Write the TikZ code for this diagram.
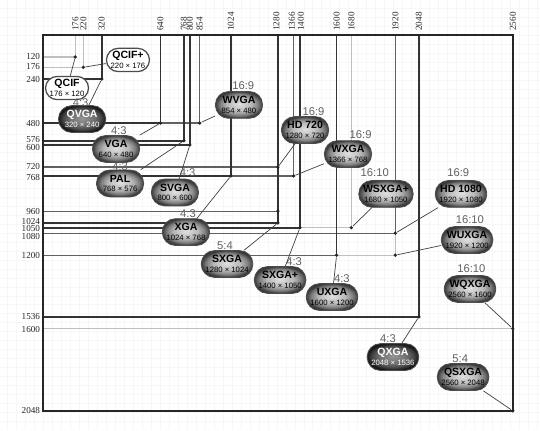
\documentclass[tikz,border=0pt]{standalone}
\usepackage{fontspec}
\setmainfont{Liberation Serif}
\setsansfont{Liberation Sans}
\usetikzlibrary{positioning}
\pgfdeclareradialshading{badgeshade}{\pgfpoint{0bp}{1.5bp}}{%
    color(0bp)=(black!12); color(13bp)=(black!28);
    color(20bp)=(black!50); color(25bp)=(black!76); color(36bp)=(black!85)}
\pgfdeclareradialshading{darkshade}{\pgfpoint{0bp}{1.5bp}}{%
    color(0bp)=(black!42); color(13bp)=(black!56);
    color(20bp)=(black!72); color(25bp)=(black!90); color(36bp)=(black!92)}
\tikzset{
    res chart/.style = {x=0.0045875cm, y=-0.0045875cm},
    frame/.style     = {line width=1.5pt, draw=black!85},
    dark/.style      = {line width=1.2pt, draw=black!80},
    mid/.style       = {line width=0.9pt, draw=black!62},
    light/.style     = {line width=0.8pt, draw=black!25},
    gridline/.style  = {draw=black!3, line width=0.3pt},
    dot/.style       = {circle, fill=black!85, inner sep=0pt,
                        minimum size=2.6pt},
    link/.style      = {draw=black!75, line width=0.5pt},
    badge/.style     = {draw=black!70, semithick, rounded corners=3.3mm,
                        minimum width=1.18cm, minimum height=0.67cm,
                        inner xsep=3pt, inner ysep=0pt, align=center,
                        font=\sffamily\fontsize{5.5}{6.8}\selectfont},
    res/.style       = {badge, shading=badgeshade, text=black},
    dres/.style      = {badge, shading=darkshade, text=white!92},
    wres/.style      = {badge, fill=white, line width=0.9pt,
                        minimum width=0.95cm, minimum height=0.58cm,
                        rounded corners=2.9mm},
    ratio/.style     = {font=\sffamily\fontsize{8}{8}\selectfont,
                        text=black!62, inner sep=0pt},
    xnum/.style      = {font=\fontsize{6.5}{6.5}\selectfont, rotate=90,
                        anchor=west, inner sep=0pt, text=black!85},
    ynum/.style      = {font=\fontsize{6.5}{6.5}\selectfont, anchor=east,
                        inner sep=0pt, text=black!85}
}
\newcommand{\rname}[1]{{\fontsize{7.5}{8}\selectfont\bfseries #1}}

\begin{document}
\begin{tikzpicture}[res chart]
\useasboundingbox (-234.3,-190.7) rectangle (2708.4,2152.6);
\draw[gridline, step=0.225cm] (-234,-190) grid (2708,2152);

% ================= Outlines: origin to width x height =================
\draw[light] (0,120)  -| (176,0);
\draw[light] (0,176)  -| (220,0);
\draw[light] (0,1050) -| (1680,0);
\draw[light] (0,1200) -| (1920,0);
\draw[light] (0,1600) -| (2560,0);
\draw[mid]   (0,480)  -| (854,0);
\draw[mid]   (0,720)  -| (1280,0);
\draw[mid]   (0,768)  -| (1366,0);
\draw[mid]   (0,960)  -| (1280,0);
\draw[mid]   (0,1080) -| (1920,0);
\draw[mid]   (0,1200) -- (1600,1200);
\draw[dark]  (0,240)  -| (320,0);
\draw[dark]  (0,480)  -| (640,0);
\draw[dark]  (0,576)  -| (768,0);
\draw[dark]  (0,600)  -| (800,0);
\draw[dark]  (0,768)  -| (1024,0);
\draw[dark]  (0,1024) -| (1280,0);
\draw[dark]  (0,1050) -| (1400,0);
\draw[dark]  (1600,1200) -- (1600,0);
\draw[dark]  (0,1536) -| (2048,0);
\draw[frame] (0,0) rectangle (2560,2048);

% ================= Axis numbers =================
\node[xnum] (x176)  at (176,-22)  {176};
\node[xnum] (x220)  at (220,-22)  {220};
\node[xnum] (x320)  at (320,-22)  {320};
\node[xnum] (x640)  at (640,-22)  {640};
\node[xnum] (x768)  at (768,-22)  {768};
\node[xnum] (x800)  at (800,-22)  {800};
\node[xnum] (x854)  at (854,-22)  {854};
\node[xnum] (x1024) at (1024,-22) {1024};
\node[xnum] (x1280) at (1272,-22) {1280};
\node[xnum] (x1366) at (1356,-22) {1366};
\node[xnum] (x1400) at (1405,-22) {1400};
\node[xnum] (x1600) at (1600,-22) {1600};
\node[xnum] (x1680) at (1680,-22) {1680};
\node[xnum] (x1920) at (1920,-22) {1920};
\node[xnum] (x2048) at (2048,-22) {2048};
\node[xnum] (x2560) at (2560,-22) {2560};

\node[ynum] (y120)  at (-15,118)  {120};
\node[ynum] (y176)  at (-15,170)  {176};
\node[ynum] (y240)  at (-15,240)  {240};
\node[ynum] (y480)  at (-15,480)  {480};
\node[ynum] (y576)  at (-15,568)  {576};
\node[ynum] (y600)  at (-15,612)  {600};
\node[ynum] (y720)  at (-15,714)  {720};
\node[ynum] (y768)  at (-15,774)  {768};
\node[ynum] (y960)  at (-15,960)  {960};
\node[ynum] (y1024) at (-15,1016) {1024};
\node[ynum] (y1050) at (-15,1056) {1050};
\node[ynum] (y1080) at (-15,1097) {1080};
\node[ynum] (y1200) at (-15,1200) {1200};
\node[ynum] (y1536) at (-15,1536) {1536};
\node[ynum] (y1600) at (-15,1604) {1600};
\node[ynum] (y2048) at (-15,2048) {2048};

% ================= Corner dots =================
\node[dot] (d-qcif)   at (176,120)   {};
\node[dot] (d-qcifp)  at (220,176)   {};
\node[dot] (d-qvga)   at (320,240)   {};
\node[dot] (d-vga)    at (640,480)   {};
\node[dot] (d-wvga)   at (854,480)   {};
\node[dot] (d-pal)    at (768,576)   {};
\node[dot] (d-svga)   at (800,600)   {};
\node[dot] (d-hd720)  at (1280,720)  {};
\node[dot] (d-xga)    at (1024,768)  {};
\node[dot] (d-wxga)   at (1366,768)  {};
\node[dot] (d-960)    at (1280,960)  {};
\node[dot] (d-sxga)   at (1280,1024) {};
\node[dot] (d-sxgap)  at (1400,1050) {};
\node[dot] (d-wsxgap) at (1680,1050) {};
\node[dot] (d-hd1080) at (1920,1080) {};
\node[dot] (d-uxga)   at (1600,1200) {};
\node[dot] (d-wuxga)  at (1920,1200) {};
\node[dot] (d-qxga)   at (2048,1536) {};
\node[dot] (d-wqxga)  at (2560,1600) {};
\node[dot] (d-qsxga)  at (2560,2048) {};

% ================= Resolution badges =================
\node[wres] (qcif)   at (131,289)   {\rname{QCIF}\\176 × 120};
\node[wres] (qcifp)  at (463,136)   {\rname{QCIF+}\\220 × 176};
\node[dres] (qvga)   at (213,458)   {\rname{QVGA}\\320 × 240};
\node[res]  (vga)    at (398,621)   {\rname{VGA}\\640 × 480};
\node[res]  (pal)    at (420,809)   {\rname{PAL}\\768 × 576};
\node[res]  (svga)   at (719,858)   {\rname{SVGA}\\800 × 600};
\node[res]  (wvga)   at (1068,381)  {\rname{WVGA}\\854 × 480};
\node[res]  (xga)    at (779,1074)  {\rname{XGA}\\1024 × 768};
\node[res]  (hd720)  at (1428,518)  {\rname{HD 720}\\1280 × 720};
\node[res]  (wxga)   at (1662,649)  {\rname{WXGA}\\1366 × 768};
\node[res]  (sxga)   at (1003,1248) {\rname{SXGA}\\1280 × 1024};
\node[res]  (sxgap)  at (1292,1335) {\rname{SXGA+}\\1400 × 1050};
\node[res]  (uxga)   at (1575,1428) {\rname{UXGA}\\1600 × 1200};
\node[res]  (wsxgap) at (1869,866)  {\rname{WSXGA+}\\1680 × 1050};
\node[res]  (hd1080) at (2278,866)  {\rname{HD 1080}\\1920 × 1080};
\node[res]  (wuxga)  at (2311,1117) {\rname{WUXGA}\\1920 × 1200};
\node[res]  (wqxga)  at (2327,1384) {\rname{WQXGA}\\2560 × 1600};
\node[dres] (qxga)   at (1907,1755) {\rname{QXGA}\\2048 × 1536};
\node[res]  (qsxga)  at (2289,1864) {\rname{QSXGA}\\2560 × 2048};

% ================= Aspect ratios =================
\node[ratio, above=-1pt of qvga, xshift=-1pt]  (qvga-r)   {4:3};
\node[ratio, above=0pt of vga, xshift=2pt]     (vga-r)    {4:3};
\node[ratio, above=-1pt of pal]                (pal-r)    {4:3};
\node[ratio, above=1pt of svga, xshift=9pt]    (svga-r)   {4:3};
\node[ratio, above=0.5pt of xga, xshift=1.5pt] (xga-r)    {4:3};
\node[ratio, above=0.5pt of sxga, xshift=-1.5pt] (sxga-r) {5:4};
\node[ratio, above=0.5pt of sxgap, xshift=10pt] (sxgap-r) {4:3};
\node[ratio, above=0.5pt of uxga, xshift=7pt]  (uxga-r)   {4:3};
\node[ratio, above=1pt of wvga, xshift=3pt]    (wvga-r)   {16:9};
\node[ratio, above=0.5pt of hd720, xshift=6pt] (hd720-r)  {16:9};
\node[ratio, above=1pt of wxga, xshift=9pt]    (wxga-r)   {16:9};
\node[ratio, above=2pt of wsxgap, xshift=-8pt] (wsxgap-r) {16:10};
\node[ratio, above=2pt of hd1080, xshift=-2pt] (hd1080-r) {16:9};
\node[ratio, above=1.5pt of wuxga, xshift=2pt] (wuxga-r)  {16:10};
\node[ratio, above=1.5pt of wqxga, xshift=1pt] (wqxga-r)  {16:10};
\node[ratio, above=0.5pt of qxga, xshift=-3.5pt] (qxga-r) {4:3};
\node[ratio, above=0.5pt of qsxga, xshift=-2pt] (qsxga-r) {5:4};

% ================= Badge to corner links =================
\draw[link] (qcif)   -- (d-qcif);
\draw[link] (qcifp)  -- (d-qcifp);
\draw[link] (qvga)   -- (d-qvga);
\draw[link] (vga)    -- (d-vga);
\draw[link] (pal)    -- (d-pal);
\draw[link] (svga)   -- (d-svga);
\draw[link] (wvga)   -- (d-wvga);
\draw[link] (xga)    -- (d-xga);
\draw[link] (hd720)  -- (d-hd720);
\draw[link] (wxga)   -- (d-wxga);
\draw[link] (sxga)   -- (d-sxga);
\draw[link] (sxgap)  -- (d-sxgap);
\draw[link] (uxga)   -- (d-uxga);
\draw[link] (wsxgap) -- (d-wsxgap);
\draw[link] (hd1080) -- (d-hd1080);
\draw[link] (wuxga)  -- (d-wuxga);
\draw[link] (wqxga)  -- (d-wqxga);
\draw[link] (qxga)   -- (d-qxga);
\draw[link] (qsxga)  -- (d-qsxga);

\end{tikzpicture}
\end{document}
